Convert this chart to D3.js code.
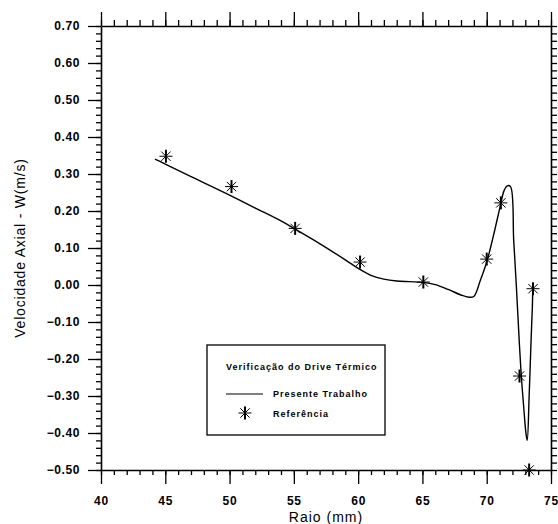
<!DOCTYPE html>
<html>
<head>
<meta charset="utf-8">
<script src="https://cdn.jsdelivr.net/npm/d3@7"></script>
<style>
  body { margin: 0; background: #fff; }
  text { font-family: "Liberation Sans", Arial, sans-serif; fill: #000; }
</style>
</head>
<body>
<div id="chartDIV"></div>
<script>
var WIDTH = 558;
var HEIGHT = 524;

// tick labels
var xTicks = [40, 45, 50, 55, 60, 65, 70, 75];
var yTicks = [0.70, 0.60, 0.50, 0.40, 0.30, 0.20, 0.10, 0.00, -0.10, -0.20, -0.30, -0.40, -0.50];

// "Presente Trabalho" curve (raio in mm, W in m/s)
var presenteRaio = [44.2, 45, 47, 50, 52, 54, 55, 57, 59, 60, 61, 62, 63, 64, 65, 66, 67, 68, 68.6, 69.0,
                    69.5, 70.0, 70.5, 71.0, 71.35, 71.6, 71.85, 72.1, 72.3, 72.55, 72.7, 72.9, 73.05, 73.15,
                    73.3, 73.45, 73.55, 73.58];
var presenteW    = [0.340, 0.327, 0.293, 0.243, 0.208, 0.173, 0.153, 0.112, 0.068, 0.045, 0.026, 0.016, 0.011, 0.009, 0.007, 0.001, -0.012, -0.027, -0.033, -0.031,
                    0.012, 0.062, 0.130, 0.205, 0.255, 0.268, 0.266, 0.120, 0.000, -0.165, -0.250, -0.340, -0.400, -0.420,
                    -0.300, -0.150, -0.060, -0.010];

// "Referência" points
var refRaio = [45.05, 50.15, 55.1, 60.15, 65.07, 70.0, 71.1, 72.55, 73.6, 73.3];
var refW    = [0.348, 0.266, 0.153, 0.062, 0.008, 0.070, 0.222, -0.246, -0.010, -0.500];

var svg = d3.select("#chartDIV")
    .append("svg")
    .attr("width", WIDTH)
    .attr("height", HEIGHT);

var xScale = d3.scaleLinear().domain([40, 75]).range([101, 551]);
var yScale = d3.scaleLinear().domain([-0.5, 0.7]).range([470, 26]);

var xMinor = d3.range(40, 75.01, 1);
var yMinor = d3.range(-50, 70.01, 2).map(function(d) { return d / 100; });

function styleAxis(g, width) {
  g.selectAll("path.domain").attr("stroke", "#000").attr("stroke-width", width);
  g.selectAll(".tick line").attr("stroke", "#000").attr("stroke-width", 1.3);
}

//bottom axis: minor + major ticks pointing down
var bottomMinor = svg.append("g")
    .attr("transform", "translate(0,470)")
    .call(d3.axisBottom(xScale).tickValues(xMinor).tickSize(5).tickSizeOuter(0).tickFormat(""));
styleAxis(bottomMinor, 1.6);

var bottomMajor = svg.append("g")
    .attr("transform", "translate(0,470)")
    .call(d3.axisBottom(xScale).tickValues(xTicks).tickSize(14).tickSizeOuter(0).tickFormat(d3.format("d")));
bottomMajor.select("path.domain").remove();
styleAxis(bottomMajor, 1.6);
bottomMajor.selectAll("text")
    .attr("y", 35).attr("dy", 0)
    .style("font-size", "12px").style("font-weight", "bold").style("letter-spacing", "0.8px");

//top axis: ticks pointing up, no labels
var topMinor = svg.append("g")
    .attr("transform", "translate(0,26)")
    .call(d3.axisTop(xScale).tickValues(xMinor).tickSize(6).tickSizeOuter(0).tickFormat(""));
styleAxis(topMinor, 1.4);
var topMajor = svg.append("g")
    .attr("transform", "translate(0,26)")
    .call(d3.axisTop(xScale).tickValues(xTicks).tickSize(14).tickSizeOuter(0).tickFormat(""));
topMajor.select("path.domain").remove();
styleAxis(topMajor, 1.4);

//left axis
var leftMinor = svg.append("g")
    .attr("transform", "translate(101,0)")
    .call(d3.axisLeft(yScale).tickValues(yMinor).tickSize(5).tickSizeOuter(0).tickFormat(""));
styleAxis(leftMinor, 1.6);
var leftMajor = svg.append("g")
    .attr("transform", "translate(101,0)")
    .call(d3.axisLeft(yScale).tickValues(yTicks).tickSize(13).tickSizeOuter(0).tickPadding(8).tickFormat(d3.format(".2f")));
leftMajor.select("path.domain").remove();
styleAxis(leftMajor, 1.6);
leftMajor.selectAll("text")
    .style("font-size", "12px").style("font-weight", "bold").style("letter-spacing", "0.6px");

//right axis: ticks pointing outwards
var rightMinor = svg.append("g")
    .attr("transform", "translate(551,0)")
    .call(d3.axisRight(yScale).tickValues(yMinor).tickSize(6).tickSizeOuter(0).tickFormat(""));
styleAxis(rightMinor, 1.6);

//axis titles
svg.append("text")
    .attr("x", xScale(57.5)).attr("y", 522)
    .attr("text-anchor", "middle")
    .style("font-size", "14px").style("letter-spacing", "1px")
    .text("Raio (mm)");

svg.append("text")
    .attr("transform", "translate(25," + yScale(0.1) + ") rotate(-90)")
    .attr("text-anchor", "middle")
    .style("font-size", "14px").style("letter-spacing", "0.8px")
    .text("Velocidade Axial - W(m/s)");

//presente trabalho curve
var line = d3.line()
    .x(function(d) { return xScale(d[0]); })
    .y(function(d) { return yScale(d[1]); })
    .curve(d3.curveCatmullRom.alpha(0.5));

svg.append("path")
    .datum(d3.zip(presenteRaio, presenteW))
    .attr("fill", "none")
    .attr("stroke", "#000")
    .attr("stroke-width", 1.4)
    .attr("d", line);

//asterisk marker: a bold vertical stroke plus thinner horizontal and diagonals
function drawStar(g, cx, cy, r) {
  var k = r * 0.72;
  g.append("path")
    .attr("d", "M" + (cx - r) + "," + cy + "L" + (cx + r) + "," + cy +
               "M" + (cx - k) + "," + (cy - k) + "L" + (cx + k) + "," + (cy + k) +
               "M" + (cx - k) + "," + (cy + k) + "L" + (cx + k) + "," + (cy - k))
    .attr("stroke", "#000").attr("stroke-width", 1).attr("fill", "none");
  g.append("path")
    .attr("d", "M" + cx + "," + (cy - r) + "L" + cx + "," + (cy + r))
    .attr("stroke", "#000").attr("stroke-width", 2).attr("fill", "none");
}

var refGroup = svg.append("g");
d3.zip(refRaio, refW).forEach(function(d) {
  drawStar(refGroup, xScale(d[0]), yScale(d[1]), 6.5);
});

//legend
var legend = svg.append("g");
legend.append("rect")
    .attr("x", 207).attr("y", 345).attr("width", 178).attr("height", 90)
    .attr("fill", "#fff").attr("stroke", "#000").attr("stroke-width", 1.3);
legend.append("text")
    .attr("x", 226).attr("y", 370)
    .style("font-size", "9px").style("font-weight", "bold").style("letter-spacing", "1px")
    .text("Verificação do Drive Térmico");
legend.append("line")
    .attr("x1", 226).attr("x2", 263).attr("y1", 394).attr("y2", 394)
    .attr("stroke", "#000").attr("stroke-width", 1.2);
legend.append("text")
    .attr("x", 273).attr("y", 397)
    .style("font-size", "9px").style("font-weight", "bold").style("letter-spacing", "1px")
    .text("Presente Trabalho");
drawStar(legend, 245, 413, 6.5);
legend.append("text")
    .attr("x", 273).attr("y", 417)
    .style("font-size", "9px").style("font-weight", "bold").style("letter-spacing", "1px")
    .text("Referência");
</script>
</body>
</html>
